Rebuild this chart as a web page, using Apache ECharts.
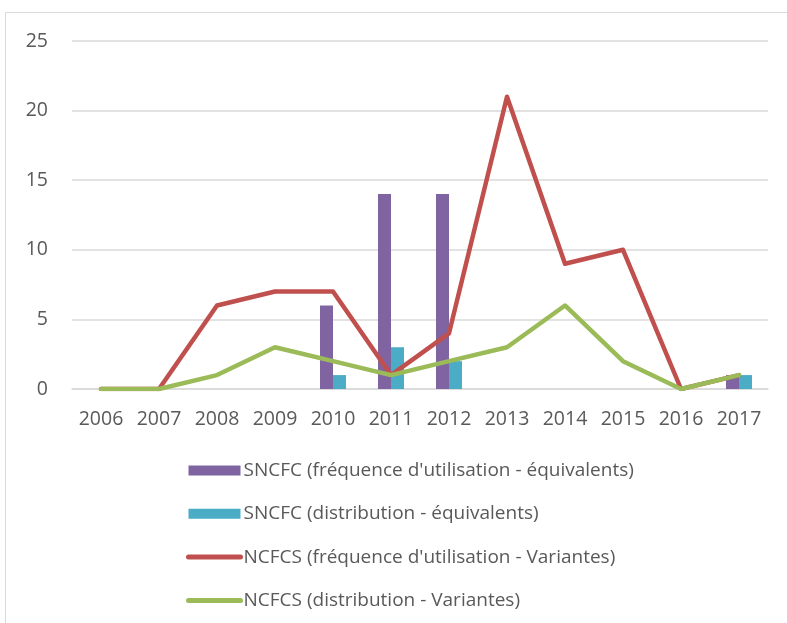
<!DOCTYPE html>
<html><head><meta charset="utf-8">
<script src="https://cdn.jsdelivr.net/npm/echarts@6/dist/echarts.min.js"></script>
<style>html,body{margin:0;padding:0;background:#fff}#c{width:787px;height:623px}</style>
</head><body><div id="c"></div>
<script>
const categories = ['2006','2007','2008','2009','2010','2011','2012','2013','2014','2015','2016','2017'];
const sncfcFreq = [0,0,0,0,6,14,14,0,0,0,0,1];
const sncfcDist = [0,0,0,0,1,3,2,0,0,0,0,1];
const ncfcsFreq = [0,0,6,7,7,1,4,21,9,10,0,1];
const ncfcsDist = [0,0,1,3,2,1,2,3,6,2,0,1];
const names = ["SNCFC (fréquence d'utilisation - équivalents)","SNCFC (distribution - équivalents)","NCFCS (fréquence d'utilisation - Variantes)","NCFCS (distribution - Variantes)"];

const chart = echarts.init(document.getElementById('c'));
const font = "'Open Sans', sans-serif";
chart.setOption({
  animation:false,
  textStyle:{fontFamily:font},
  graphic:[{type:'rect',shape:{x:5.5,y:12.5,width:800,height:640},style:{fill:'none',stroke:'#d9d9d9',lineWidth:1},silent:true,z:-10}],
  grid:{left:72,right:19,top:41,bottom:234,containLabel:false},
  legend:{orient:'vertical',left:181,top:456,itemGap:24.3,itemWidth:52,itemHeight:10,
    textStyle:{color:'#595959',fontSize:19,fontFamily:font,padding:[0,0,0,-2]},
    data:[{name:names[0],icon:'rect'},{name:names[1],icon:'rect'},
      {name:names[2],itemStyle:{opacity:0},lineStyle:{width:5,cap:'round',color:'#C0504D'}},
      {name:names[3],itemStyle:{opacity:0},lineStyle:{width:5,cap:'round',color:'#9BBB59'}}]},
  xAxis:{type:'category',data:categories,
    axisLine:{lineStyle:{color:'#d9d9d9',width:1.5}},axisTick:{show:false},
    axisLabel:{color:'#595959',fontSize:19.5,margin:20,interval:0}},
  yAxis:{type:'value',min:0,max:25,interval:5,
    axisLine:{show:false},axisTick:{show:false},
    splitLine:{lineStyle:{color:'#d9d9d9',width:1.5}},
    axisLabel:{color:'#595959',fontSize:19.5,margin:24}},
  series:[
    {name:names[0],type:'bar',data:sncfcFreq,barWidth:13,barGap:'0%',itemStyle:{color:'#8064A2'}},
    {name:names[1],type:'bar',data:sncfcDist,barWidth:13,barGap:'0%',itemStyle:{color:'#4BACC6'}},
    {name:names[2],type:'line',data:ncfcsFreq,symbol:'none',lineStyle:{color:'#C0504D',width:4.5,cap:'round',join:'round'},itemStyle:{color:'#C0504D'}},
    {name:names[3],type:'line',data:ncfcsDist,symbol:'none',lineStyle:{color:'#9BBB59',width:4.5,cap:'round',join:'round'},itemStyle:{color:'#9BBB59'}}
  ]
});
</script></body></html>
